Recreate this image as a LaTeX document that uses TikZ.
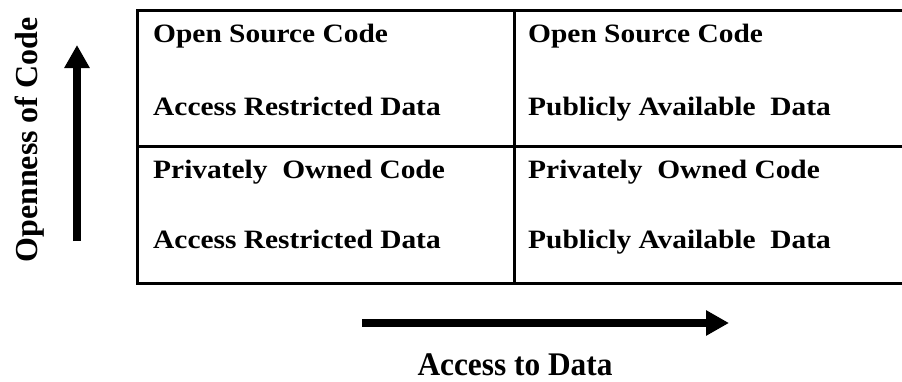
\documentclass[tikz,border=0pt]{standalone}
\usepackage{fontspec}
\setmainfont{Liberation Serif}
\usetikzlibrary{arrows.meta}
\begin{document}
\begin{tikzpicture}[x=1pt,y=-1pt,
  gridline/.style={line width=3pt, line cap=rect},
  celltext/.style={anchor=base west, inner sep=0pt, font=\fontsize{26.5}{32}\selectfont\bfseries, transform shape, xscale=1.11},
  axislabel/.style={anchor=base, inner sep=0pt, font=\fontsize{33}{38}\selectfont\bfseries},
  axisarrow/.style={line width=8pt, -{Triangle[length=23pt,width=24pt]}}]
  \useasboundingbox (0,0) rectangle (902,381);
  % quadrant grid (open on the right)
  \draw[gridline] (902,10) -- (137,10) -- (137,283) -- (902,283);
  \draw[gridline] (137,146) -- (902,146);
  \draw[gridline] (514,10) -- (514,283);
  % cell texts
  \node[celltext] (c11) at (153,42)  {Open Source Code};
  \node[celltext] (c12) at (153,115) {Access Restricted Data};
  \node[celltext] (c21) at (528,42)  {Open Source Code};
  \node[celltext] (c22) at (528,115) {Publicly Available\ \ Data};
  \node[celltext] (c31) at (153,178) {Privately\ \ Owned Code};
  \node[celltext] (c32) at (153,248) {Access Restricted Data};
  \node[celltext] (c41) at (528,178) {Privately\ \ Owned Code};
  \node[celltext] (c42) at (528,248) {Publicly Available\ \ Data};
  % axes
  \coordinate (vbot) at (77,241);
  \coordinate (vtop) at (77,45);
  \draw[axisarrow] (vbot) -- (vtop);
  \node[axislabel, font=\fontsize{32}{38}\selectfont\bfseries, rotate=90] (ylab) at (37,140) {Openness of Code};
  \coordinate (hleft) at (362,323);
  \coordinate (hright) at (729,323);
  \draw[axisarrow] (hleft) -- (hright);
  \node[axislabel, transform shape, xscale=0.95] (xlab) at (515,375) {Access to Data};
\end{tikzpicture}
\end{document}
